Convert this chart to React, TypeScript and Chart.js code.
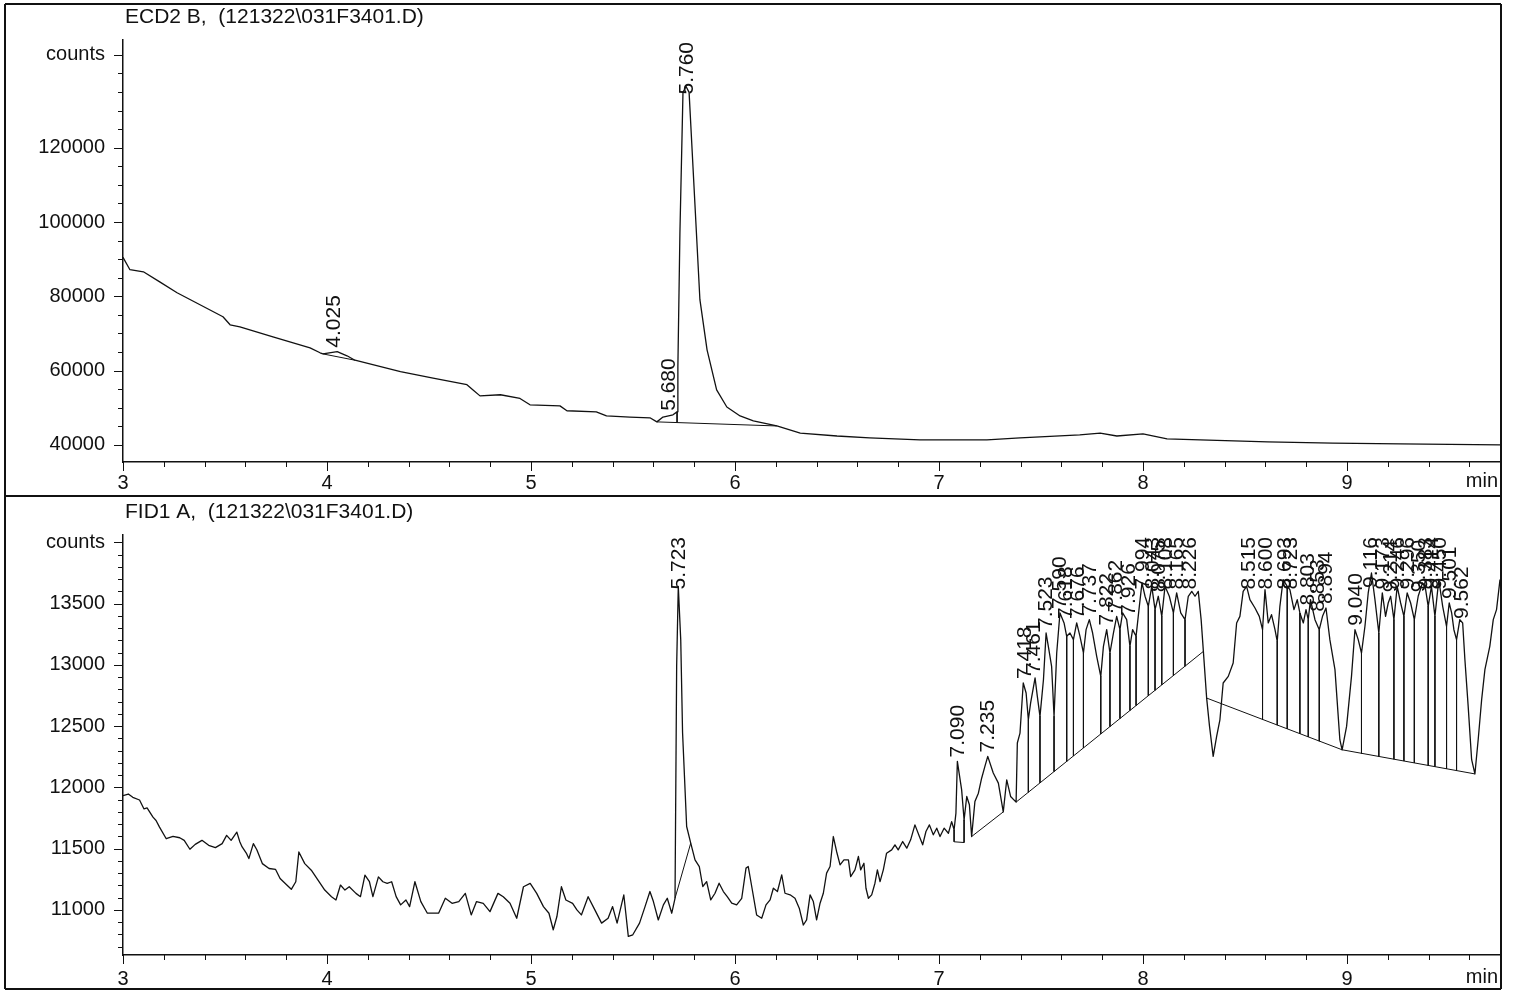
import React, { useEffect, useRef } from "react";
import { Chart, registerables } from "chart.js";

Chart.register(...registerables);

const FONT = "'Liberation Sans', Arial, Helvetica, sans-serif";

// ---------- ECD2 B (top panel) ----------
const ecdTitle = "ECD2 B,  (121322\\031F3401.D)";
const ecdYTicks = [40000, 60000, 80000, 100000, 120000];
const ecdTime = [
  3.0, 3.034, 3.1, 3.18, 3.265, 3.49, 3.525, 3.573, 3.735, 3.917,
  3.966, 3.98, 4.05, 4.098, 4.137, 4.36, 4.52, 4.686, 4.716, 4.75,
  4.85, 4.946, 4.995, 5.142, 5.176, 5.32, 5.37, 5.485, 5.583, 5.617,
  5.647, 5.696, 5.716, 5.72, 5.73, 5.745, 5.76, 5.775, 5.794, 5.828,
  5.863, 5.91, 5.96, 6.025, 6.09, 6.205, 6.32, 6.5, 6.66, 6.907,
  7.235, 7.397, 7.495, 7.69, 7.79, 7.872, 8.0, 8.118, 8.28, 8.61,
  8.93, 9.26, 9.75,
];
const ecdSignal = [
  90500, 87160, 86600, 83900, 80960, 74500, 72340, 71800, 69100, 66100,
  64800, 64500, 65100, 63990, 62800, 59700, 58000, 56200, 54800, 53200,
  53500, 52500, 50800, 50500, 49200, 48900, 47800, 47500, 47300, 46200,
  47500, 48100, 48900, 61000, 97100, 134900, 136500, 134900, 114900, 79100,
  65600, 54800, 50200, 47800, 46500, 45100, 43200, 42400, 41900, 41350,
  41350, 41900, 42150, 42700, 43200, 42400, 42950, 41600, 41350, 40800,
  40500, 40270, 40000,
];
const ecdBaseStartT = [3.98, 5.617];
const ecdBaseStartV = [64500, 46200];
const ecdBaseEndT = [4.137, 6.205];
const ecdBaseEndV = [62800, 45100];
const ecdDropT = [5.716];
const ecdDropTop = [48900];
const ecdDropBottom = [46100];
const ecdPeakLabels = ["4.025", "5.680", "5.760"];
const ecdPeakTimes = [4.03, 5.672, 5.76];
const ecdPeakTops = [65100, 48100, 136500];

// ---------- FID1 A (bottom panel) ----------
const fidTitle = "FID1 A,  (121322\\031F3401.D)";
const fidYTicks = [11000, 11500, 12000, 12500, 13000, 13500];
const fidTime = [
  3.0, 3.026, 3.048, 3.081, 3.103, 3.118, 3.147, 3.162, 3.179, 3.212,
  3.245, 3.278, 3.3, 3.328, 3.354, 3.387, 3.42, 3.453, 3.486, 3.508,
  3.53, 3.558, 3.573, 3.584, 3.606, 3.617, 3.639, 3.656, 3.683, 3.716,
  3.748, 3.77, 3.803, 3.825, 3.847, 3.862, 3.891, 3.923, 3.956, 3.989,
  4.022, 4.044, 4.066, 4.088, 4.109, 4.142, 4.164, 4.186, 4.208, 4.225,
  4.252, 4.274, 4.295, 4.317, 4.339, 4.361, 4.387, 4.405, 4.431, 4.46,
  4.492, 4.525, 4.547, 4.58, 4.613, 4.646, 4.678, 4.707, 4.733, 4.766,
  4.799, 4.838, 4.864, 4.897, 4.93, 4.963, 4.996, 5.028, 5.061, 5.088,
  5.109, 5.127, 5.149, 5.171, 5.204, 5.225, 5.247, 5.28, 5.313, 5.346,
  5.378, 5.4, 5.422, 5.455, 5.477, 5.499, 5.532, 5.559, 5.583, 5.6,
  5.624, 5.649, 5.668, 5.69, 5.706, 5.714, 5.722, 5.734, 5.743, 5.763,
  5.783, 5.804, 5.825, 5.842, 5.861, 5.881, 5.902, 5.922, 5.943, 5.962,
  5.984, 6.008, 6.033, 6.054, 6.065, 6.082, 6.106, 6.131, 6.152, 6.172,
  6.188, 6.208, 6.229, 6.245, 6.27, 6.294, 6.315, 6.335, 6.351, 6.368,
  6.384, 6.4, 6.417, 6.433, 6.449, 6.466, 6.482, 6.498, 6.515, 6.534,
  6.556, 6.567, 6.588, 6.605, 6.616, 6.632, 6.642, 6.654, 6.67, 6.686,
  6.698, 6.711, 6.727, 6.743, 6.768, 6.784, 6.8, 6.822, 6.842, 6.861,
  6.882, 6.904, 6.92, 6.936, 6.953, 6.972, 6.989, 7.005, 7.025, 7.046,
  7.062, 7.074, 7.083, 7.09, 7.111, 7.123, 7.136, 7.149, 7.16, 7.176,
  7.193, 7.209, 7.225, 7.239, 7.266, 7.291, 7.315, 7.332, 7.351, 7.378,
  7.384, 7.397, 7.413, 7.427, 7.438, 7.449, 7.471, 7.482, 7.495, 7.512,
  7.525, 7.536, 7.552, 7.564, 7.577, 7.593, 7.613, 7.626, 7.642, 7.659,
  7.675, 7.691, 7.708, 7.721, 7.737, 7.753, 7.773, 7.793, 7.806, 7.822,
  7.838, 7.855, 7.871, 7.887, 7.9, 7.92, 7.936, 7.949, 7.966, 7.982,
  7.995, 8.01, 8.026, 8.043, 8.059, 8.075, 8.092, 8.108, 8.129, 8.149,
  8.165, 8.185, 8.206, 8.222, 8.239, 8.255, 8.271, 8.285, 8.296, 8.312,
  8.326, 8.344, 8.361, 8.377, 8.393, 8.418, 8.442, 8.459, 8.475, 8.491,
  8.508, 8.524, 8.549, 8.57, 8.586, 8.598, 8.614, 8.63, 8.647, 8.658,
  8.671, 8.687, 8.707, 8.72, 8.74, 8.756, 8.769, 8.786, 8.799, 8.81,
  8.821, 8.843, 8.864, 8.88, 8.897, 8.916, 8.941, 8.965, 8.976, 8.998,
  9.022, 9.039, 9.055, 9.071, 9.088, 9.104, 9.12, 9.137, 9.156, 9.173,
  9.189, 9.202, 9.214, 9.23, 9.246, 9.263, 9.279, 9.295, 9.312, 9.33,
  9.349, 9.37, 9.383, 9.398, 9.414, 9.431, 9.45, 9.469, 9.488, 9.501,
  9.513, 9.524, 9.537, 9.553, 9.567, 9.578, 9.594, 9.611, 9.627, 9.643,
  9.66, 9.676, 9.7, 9.717, 9.733, 9.75,
];
const fidSignal = [
  11932, 11946, 11919, 11897, 11824, 11832, 11757, 11730, 11676, 11581,
  11600, 11589, 11568, 11495, 11535, 11568, 11527, 11508, 11541, 11608,
  11568, 11635, 11554, 11514, 11459, 11419, 11541, 11491, 11378, 11338,
  11330, 11257, 11203, 11168, 11230, 11473, 11378, 11324, 11243, 11162,
  11108, 11081, 11203, 11162, 11189, 11135, 11108, 11284, 11230, 11108,
  11270, 11230, 11216, 11230, 11108, 11041, 11081, 11027, 11230, 11068,
  10973, 10973, 10973, 11095, 11054, 11068, 11135, 10959, 11068, 11054,
  10986, 11135, 11108, 11054, 10932, 11189, 11216, 11135, 11027, 10973,
  10838, 10946, 11189, 11081, 11054, 11000, 10959, 11108, 11000, 10892,
  10932, 11027, 10892, 11122, 10784, 10797, 10892, 11027, 11150, 11068,
  10918, 11041, 11095, 10973, 11095, 12988, 13641, 13206, 12446, 11681,
  11545, 11408, 11354, 11191, 11231, 11082, 11136, 11218, 11150, 11109,
  11055, 11041, 11095, 11341, 11354, 11191, 10959, 10932, 11041, 11082,
  11177, 11150, 11286, 11136, 11123, 11095, 11014, 10877, 10918, 11123,
  11068, 10918, 11055, 11136, 11300, 11354, 11599, 11477, 11368, 11408,
  11408, 11272, 11327, 11436, 11327, 11381, 11177, 11095, 11123, 11218,
  11327, 11231, 11327, 11463, 11490, 11531, 11490, 11558, 11504, 11572,
  11694, 11599, 11531, 11640, 11694, 11613, 11667, 11599, 11667, 11626,
  11721, 11654, 11790, 12212, 11980, 11735, 11926, 11858, 11599, 11884,
  11953, 12075, 12171, 12253, 12117, 12035, 11800, 12062, 11926, 11880,
  12362, 12443, 12852, 12770, 12552, 12688, 12893, 12743, 12580, 12879,
  13260, 13151, 12988, 12580, 13097, 13424, 13342, 13233, 13260, 13206,
  13342, 13233, 13097, 13288, 13369, 13260, 13070, 12906, 13151, 13288,
  13097, 13260, 13396, 13288, 13424, 13369, 13151, 13288, 13233, 13478,
  13669, 13560, 13478, 13641, 13451, 13560, 13396, 13641, 13560, 13424,
  13587, 13424, 13369, 13560, 13600, 13560, 13600, 13369, 13110, 12729,
  12500, 12253, 12416, 12552, 12852, 12906, 13015, 13342, 13396, 13600,
  13641, 13532, 13464, 13396, 13287, 13614, 13342, 13410, 13287, 13192,
  13478, 13696, 13641, 13614, 13451, 13532, 13424, 13342, 13451, 13369,
  13532, 13369, 13287, 13396, 13464, 13206, 12961, 12389, 12307, 12498,
  12906, 13287, 13206, 13097, 13315, 13587, 13750, 13532, 13260, 13587,
  13396, 13505, 13560, 13369, 13641, 13505, 13396, 13587, 13505, 13369,
  13560, 13669, 13641, 13478, 13641, 13396, 13696, 13478, 13315, 13505,
  13424, 13287, 13206, 13369, 13342, 13042, 12661, 12226, 12110, 12389,
  12716, 12961, 13151, 13369, 13451, 13696,
];
const fidBaseStartT = [5.706, 7.074, 7.16, 7.378, 8.312, 8.976];
const fidBaseStartV = [11095, 11556, 11599, 11880, 12729, 12307];
const fidBaseEndT = [5.783, 7.123, 7.315, 8.296, 8.976, 9.627];
const fidBaseEndV = [11545, 11550, 11800, 13110, 12307, 12110];
const fidDropT = [
  7.074, 7.123, 7.438, 7.495, 7.564, 7.626, 7.659, 7.708, 7.793, 7.838,
  7.887, 7.936, 7.966, 8.026, 8.059, 8.092, 8.149, 8.206, 8.586, 8.658,
  8.707, 8.769, 8.81, 8.864, 9.071, 9.156, 9.23, 9.279, 9.33, 9.398,
  9.431, 9.488, 9.537,
];
const fidDropTop = [
  11654, 11735, 12552, 12580, 12580, 13233, 13206, 13097, 12906, 13097,
  13288, 13151, 13233, 13478, 13451, 13396, 13424, 13369, 13287, 13192,
  13641, 13424, 13369, 13287, 13097, 13260, 13369, 13396, 13369, 13478,
  13396, 13315, 13206,
];
const fidDropBottom = [
  11556, 11550, 11960, 12037, 12129, 12212, 12257, 12322, 12436, 12496,
  12562, 12628, 12668, 12748, 12792, 12837, 12913, 12989, 12554, 12508,
  12477, 12437, 12411, 12377, 12277, 12252, 12230, 12215, 12199, 12179,
  12169, 12152, 12137,
];
const fidPeakLabels = [
  "5.723", "7.090", "7.235", "7.418", "7.461", "7.523", "7.590", "7.618", "7.676", "7.737",
  "7.822", "7.862", "7.926", "7.994", "8.043", "8.075", "8.108", "8.165", "8.226", "8.515",
  "8.600", "8.693", "8.723", "8.803", "8.853", "8.894", "9.040", "9.116", "9.173", "9.214",
  "9.246", "9.296", "9.350", "9.383", "9.414", "9.450", "9.501", "9.562",
];
const fidPeakTops = [
  13641, 12212, 12253, 12852, 12893, 13260, 13424, 13342, 13342, 13369,
  13288, 13396, 13369, 13669, 13641, 13560, 13641, 13587, 13600, 13641,
  13614, 13696, 13614, 13451, 13400, 13464, 13287, 13750, 13587, 13560,
  13641, 13587, 13560, 13641, 13641, 13696, 13505, 13342,
];
const fidPeakTimes = fidPeakLabels.map((s) => parseFloat(s));

const xMajorTicks = [3, 4, 5, 6, 7, 8, 9];

// ---------- helpers ----------
const pts = (xs: number[], ys: number[]) => xs.map((x, i) => ({ x, y: ys[i] }));
const segments = (t0: number[], v0: number[], t1: number[], v1: number[]) => {
  const out: any[] = [];
  t0.forEach((t, i) => {
    out.push({ x: t, y: v0[i] }, { x: t1[i], y: v1[i] }, { x: t1[i], y: null });
  });
  return out;
};
const drops = (t: number[], a: number[], b: number[]) => {
  const out: any[] = [];
  t.forEach((x, i) => {
    out.push({ x, y: a[i] }, { x, y: b[i] }, { x, y: null });
  });
  return out;
};

type Spec = {
  title: string;
  yMin: number;
  yMax: number;
  yTicks: number[];
  countsTick: number;
  yMinorFrom: number;
  yMinorStep: number;
  padTop: number;
  xAxisHeight: number;
  xLabelPad: number;
  minOffset: number;
  height: number;
  isTop: boolean;
  trace: any[];
  base: any[];
  drop: any[];
  labels: string[];
  labelTimes: number[];
  labelTops: number[];
};

function makePlugin(spec: Spec) {
  return {
    id: "chromPanel",
    afterDraw(chart: any) {
      const ctx = chart.ctx as CanvasRenderingContext2D;
      const xs = chart.scales.x;
      const ys = chart.scales.y;
      const { left, right, top, bottom } = chart.chartArea;
      ctx.save();
      ctx.strokeStyle = "#111";
      ctx.fillStyle = "#111";
      ctx.lineWidth = 1;
      ctx.beginPath();
      for (let v = spec.yMinorFrom; v <= spec.countsTick + 1e-6; v += spec.yMinorStep) {
        const p = Math.round(ys.getPixelForValue(v)) + 0.5;
        const major = spec.yTicks.includes(v) || v === spec.countsTick;
        ctx.moveTo(left - (major ? 9 : 5), p);
        ctx.lineTo(left, p);
      }
      for (let i = 0; i <= 33; i++) {
        const v = 3 + i * 0.2;
        const p = Math.round(xs.getPixelForValue(v)) + 0.5;
        const major = i % 5 === 0;
        ctx.moveTo(p, bottom);
        ctx.lineTo(p, bottom + (major ? 9 : 5));
      }
      ctx.stroke();

      // peak labels
      ctx.font = `21px ${FONT}`;
      ctx.textAlign = "left";
      ctx.textBaseline = "middle";
      spec.labels.forEach((txt, i) => {
        const x = xs.getPixelForValue(spec.labelTimes[i]);
        let y = ys.getPixelForValue(spec.labelTops[i]) - 4;
        const w = ctx.measureText(txt).width;
        if (y - w < top + 2) y = top + 2 + w;
        ctx.save();
        ctx.translate(x + 1, y);
        ctx.rotate(-Math.PI / 2);
        ctx.fillText(txt, 0, 0);
        ctx.restore();
      });

      // title
      ctx.font = `21px ${FONT}`;
      ctx.textAlign = "left";
      ctx.textBaseline = "middle";
      ctx.fillText(spec.title, 125, spec.isTop ? 17 : 15);
      // min
      ctx.font = `20px ${FONT}`;
      ctx.textAlign = "right";
      ctx.fillText("min", right - 2, bottom + spec.minOffset);

      // frame
      ctx.lineWidth = 2;
      ctx.beginPath();
      const h = chart.height;
      if (spec.isTop) {
        ctx.moveTo(5, 4);
        ctx.lineTo(1501, 4);
        ctx.moveTo(5, 4);
        ctx.lineTo(5, h);
        ctx.moveTo(1501, 4);
        ctx.lineTo(1501, h);
        ctx.moveTo(5, h - 1);
        ctx.lineTo(1501, h - 1);
      } else {
        ctx.moveTo(5, 0);
        ctx.lineTo(5, h - 2);
        ctx.moveTo(1501, 0);
        ctx.lineTo(1501, h - 2);
        ctx.moveTo(5, h - 2);
        ctx.lineTo(1501, h - 2);
      }
      ctx.stroke();
      ctx.restore();
    },
  };
}

function Panel({ spec, top }: { spec: Spec; top: number }) {
  const ref = useRef<HTMLCanvasElement | null>(null);
  useEffect(() => {
    if (!ref.current) return;
    const chart = new Chart(ref.current, {
      type: "line",
      data: {
        datasets: [
          {
            data: spec.trace,
            borderColor: "#111",
            borderWidth: 1.3,
            pointRadius: 0,
            tension: 0,
            fill: false,
            borderJoinStyle: "round",
          },
          {
            data: spec.base,
            borderColor: "#111",
            borderWidth: 1,
            pointRadius: 0,
            tension: 0,
            fill: false,
            spanGaps: false,
          },
          {
            data: spec.drop,
            borderColor: "#111",
            borderWidth: 1,
            pointRadius: 0,
            tension: 0,
            fill: false,
            spanGaps: false,
          },
        ],
      } as any,
      options: {
        animation: false,
        responsive: false,
        devicePixelRatio: 1,
        events: [],
        layout: { padding: { left: 0, right: 13, top: spec.padTop, bottom: 0 } },
        plugins: { legend: { display: false }, tooltip: { enabled: false } },
        scales: {
          x: {
            type: "linear",
            min: 3,
            max: 9.75,
            grid: { display: false },
            border: { display: true, color: "#111", width: 1.5 },
            ticks: {
              color: "#111",
              font: { family: FONT, size: 20 },
              padding: spec.xLabelPad,
              maxRotation: 0,
              autoSkip: false,
              callback: (v: any) => String(v),
            },
            afterBuildTicks: (s: any) => {
              s.ticks = xMajorTicks.map((v) => ({ value: v }));
            },
            afterFit: (s: any) => {
              s.height = spec.xAxisHeight;
            },
          },
          y: {
            type: "linear",
            min: spec.yMin,
            max: spec.yMax,
            grid: { display: false },
            border: { display: true, color: "#111", width: 1.5 },
            ticks: {
              color: "#111",
              font: { family: FONT, size: 20 },
              padding: 10,
              autoSkip: false,
              callback: (v: any) => (v === spec.countsTick ? "counts" : String(v)),
            },
            afterBuildTicks: (s: any) => {
              s.ticks = [...spec.yTicks, spec.countsTick].map((v) => ({ value: v }));
            },
            afterFit: (s: any) => {
              s.width = 123;
            },
          },
        },
      } as any,
      plugins: [makePlugin(spec)],
    });
    return () => chart.destroy();
  }, []);
  return (
    <canvas
      ref={ref}
      width={1513}
      height={spec.height}
      style={{ position: "absolute", left: 0, top, width: 1513, height: spec.height, display: "block" }}
    />
  );
}

const ecdSpec: Spec = {
  title: ecdTitle,
  yMin: 35400,
  yMax: 149000,
  yTicks: ecdYTicks,
  countsTick: 145000,
  yMinorFrom: 40000,
  yMinorStep: 5000,
  padTop: 40,
  xAxisHeight: 35,
  xLabelPad: 1,
  minOffset: 19,
  height: 497,
  isTop: true,
  trace: pts(ecdTime, ecdSignal),
  base: segments(ecdBaseStartT, ecdBaseStartV, ecdBaseEndT, ecdBaseEndV),
  drop: drops(ecdDropT, ecdDropTop, ecdDropBottom),
  labels: ecdPeakLabels,
  labelTimes: ecdPeakTimes,
  labelTops: ecdPeakTops,
};

const fidSpec: Spec = {
  title: fidTitle,
  yMin: 10632,
  yMax: 14060,
  yTicks: fidYTicks,
  countsTick: 14000,
  yMinorFrom: 10700,
  yMinorStep: 100,
  padTop: 38,
  xAxisHeight: 36,
  xLabelPad: 4,
  minOffset: 22,
  height: 494,
  isTop: false,
  trace: pts(fidTime, fidSignal),
  base: segments(fidBaseStartT, fidBaseStartV, fidBaseEndT, fidBaseEndV),
  drop: drops(fidDropT, fidDropTop, fidDropBottom),
  labels: fidPeakLabels,
  labelTimes: fidPeakTimes,
  labelTops: fidPeakTops,
};

export default function App() {
  return (
    <div
      style={{
        position: "fixed",
        left: 0,
        top: 0,
        width: 1513,
        height: 991,
        background: "#fff",
        overflow: "hidden",
      }}
    >
      <Panel spec={ecdSpec} top={0} />
      <Panel spec={fidSpec} top={497} />
    </div>
  );
}
